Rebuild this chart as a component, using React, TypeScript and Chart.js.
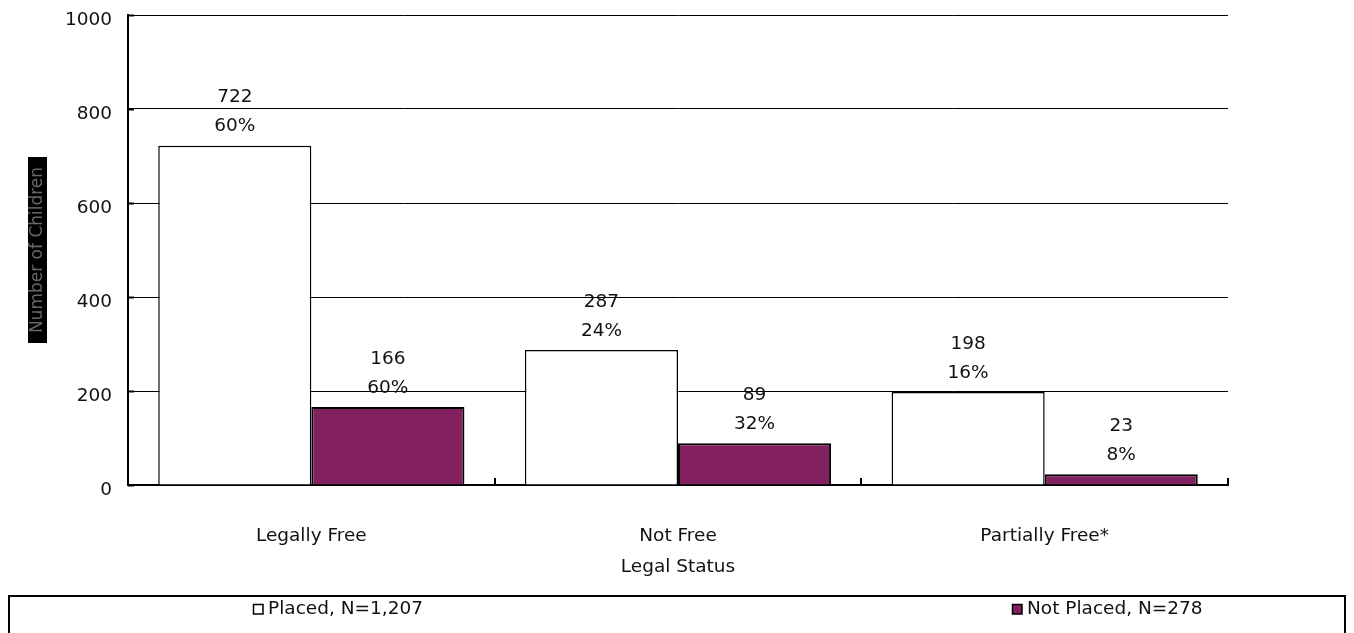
import React, { useEffect, useRef } from "react";
import { Chart, registerables } from "chart.js";

Chart.register(...registerables);

const categories = ["Legally Free", "Not Free", "Partially Free*"];
const placedValues = [722, 287, 198];
const notPlacedValues = [166, 89, 23];
const placedPct = ["60%", "24%", "16%"];
const notPlacedPct = ["60%", "32%", "8%"];
const seriesLabels = ["Placed, N=1,207", "Not Placed, N=278"];
const yTicks = [0, 200, 400, 600, 800, 1000];
const xTitle = "Legal Status";
const yTitle = "Number of Children";

const FONT = "'DejaVu Sans', sans-serif";
const FS = 18.5;
const PURPLE = "#822060";

export default function App() {
  const ref = useRef<HTMLCanvasElement | null>(null);

  useEffect(() => {
    const canvas = ref.current;
    if (!canvas) return;

    const yTitleBox = {
      id: "yTitleBox",
      beforeDraw(chart: any) {
        const ctx = chart.ctx;
        ctx.save();
        ctx.fillStyle = "#000";
        ctx.fillRect(20, 149, 19, 186);
        ctx.restore();
      },
    };

    const extras = {
      id: "extras",
      afterDatasetsDraw(chart: any) {
        const ctx = chart.ctx;
        const x = chart.scales.x;
        const y = chart.scales.y;
        ctx.save();
        ctx.strokeStyle = "#000";
        ctx.lineWidth = 2;
        yTicks.forEach((v) => {
          const py = Math.round(y.getPixelForValue(v)) + 0.5;
          ctx.beginPath();
          ctx.moveTo(x.left, py);
          ctx.lineTo(x.left + 6, py);
          ctx.stroke();
        });
        const w = (x.right - x.left) / categories.length;
        for (let i = 1; i <= categories.length; i++) {
          const px = Math.round(x.left + i * w);
          ctx.beginPath();
          ctx.moveTo(px, y.bottom);
          ctx.lineTo(px, y.bottom - 7);
          ctx.stroke();
        }
        ctx.fillStyle = "#111";
        ctx.font = `${FS}px ${FONT}`;
        ctx.textAlign = "center";
        ctx.textBaseline = "middle";
        const pcts = [placedPct, notPlacedPct];
        const vals = [placedValues, notPlacedValues];
        [0, 1].forEach((di) => {
          const meta = chart.getDatasetMeta(di);
          meta.data.forEach((bar: any, i: number) => {
            ctx.fillText(String(vals[di][i]), bar.x, bar.y - 48);
            ctx.fillText(pcts[di][i], bar.x, bar.y - 19);
          });
        });
        ctx.restore();
      },
      afterDraw(chart: any) {
        const ctx = chart.ctx;
        ctx.save();
        ctx.strokeStyle = "#000";
        ctx.lineWidth = 2;
        ctx.strokeRect(1, 588, 1336, 60);
        ctx.font = `${FS}px ${FONT}`;
        ctx.textBaseline = "middle";
        ctx.textAlign = "left";
        const items = [
          { x: 245, fill: "#fff" },
          { x: 1004, fill: PURPLE },
        ];
        items.forEach((it, i) => {
          ctx.fillStyle = it.fill;
          ctx.fillRect(it.x, 596, 10, 10);
          ctx.lineWidth = 1.5;
          ctx.strokeStyle = "#000";
          ctx.strokeRect(it.x + 0.5, 596.5, 9.5, 9.5);
          ctx.fillStyle = "#111";
          ctx.fillText(seriesLabels[i], it.x + 15, 601);
        });
        ctx.restore();
      },
    };

    const chart = new Chart(canvas, {
      type: "bar",
      data: {
        labels: categories,
        datasets: [
          {
            label: seriesLabels[0],
            data: placedValues,
            backgroundColor: "#ffffff",
            borderColor: "#000",
            borderWidth: 1.5,
            categoryPercentage: 0.835,
            barPercentage: 1,
          },
          {
            label: seriesLabels[1],
            data: notPlacedValues,
            backgroundColor: PURPLE,
            borderColor: "#000",
            borderWidth: 2,
            categoryPercentage: 0.835,
            barPercentage: 1,
          },
        ],
      },
      options: {
        responsive: false,
        animation: false,
        devicePixelRatio: 1,
        layout: { padding: { left: 0, top: 7, right: 118, bottom: 48 } },
        plugins: {
          legend: { display: false },
          tooltip: { enabled: false },
        },
        scales: {
          x: {
            grid: { display: false },
            border: { display: true, color: "#000", width: 2 },
            ticks: {
              color: "#111",
              font: { family: FONT, size: FS },
              padding: 32,
              maxRotation: 0,
            },
            title: {
              display: true,
              text: xTitle,
              color: "#111",
              font: { family: FONT, size: FS },
              padding: { top: 0, bottom: 7 },
            },
            afterFit(scale: any) {
              scale.height = 100;
              scale.paddingLeft = 0;
              scale.paddingRight = 0;
            },
          },
          y: {
            min: 0,
            max: 1000,
            afterBuildTicks(scale: any) {
              scale.ticks = yTicks.map((v) => ({ value: v }));
            },
            grid: { color: "#000", lineWidth: 1, drawTicks: false },
            border: { display: true, color: "#000", width: 2 },
            ticks: {
              color: "#111",
              font: { family: FONT, size: FS },
              padding: 16,
              labelOffset: 5,
              callback: (v: any) => String(v),
            },
            title: {
              display: true,
              text: yTitle,
              color: "#666",
              font: { family: FONT, size: 17 },
              padding: { top: 19, bottom: 0 },
            },
            afterFit(scale: any) {
              scale.width = 120;
              scale.paddingTop = 0;
              scale.paddingBottom = 0;
            },
          },
        },
      },
      plugins: [yTitleBox, extras],
    });

    return () => chart.destroy();
  }, []);

  return (
    <div style={{ width: 1338, height: 625 }}>
      <canvas ref={ref} width={1338} height={625} style={{ display: "block" }} />
    </div>
  );
}
